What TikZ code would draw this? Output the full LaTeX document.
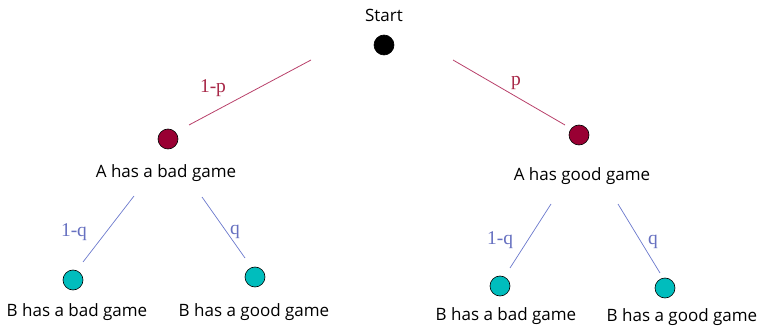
\documentclass[tikz,border=0pt]{standalone}
\usepackage{fontspec}
\setmainfont{Open Sans}
\newfontfamily\lblfont{Liberation Serif}
\definecolor{maroonA}{HTML}{990033}
\definecolor{redline}{HTML}{B8406A}
\definecolor{redlbl}{HTML}{A82848}
\definecolor{blueline}{HTML}{6A78CC}
\definecolor{bluelbl}{HTML}{6670C0}
\definecolor{tealB}{HTML}{00BDBD}
\begin{document}
\begin{tikzpicture}[x=1pt,y=-1pt,
  dot/.style={circle,draw=black,line width=0.6pt,minimum size=20pt,inner sep=0pt},
  txt/.style={font=\fontsize{17}{20}\selectfont,inner sep=0pt},
  plbl/.style={font=\lblfont\fontsize{19.5}{22}\selectfont,text=redlbl,inner sep=0pt},
  qlbl/.style={font=\lblfont\fontsize{19.5}{22}\selectfont,text=bluelbl,inner sep=0pt},
  rline/.style={draw=redline,line width=0.8pt},
  bline/.style={draw=blueline,line width=0.7pt}]
\useasboundingbox (0,0) rectangle (764,326);
% nodes
\node[txt] (starttxt) at (384,15) {Start};
\node[dot,fill=black] (start) at (384,45) {};
\node[dot,fill=maroonA] (al) at (168,139) {};
\node[dot,fill=maroonA] (ar) at (579,135) {};
\node[txt] (altxt) at (166,173) {A has a bad game};
\node[txt] (artxt) at (582,176) {A has good game};
\node[dot,fill=tealB] (bll) at (73,280) {};
\node[dot,fill=tealB] (blr) at (255,277) {};
\node[dot,fill=tealB] (brl) at (500,286) {};
\node[dot,fill=tealB] (brr) at (665,288) {};
\node[txt] (blltxt) at (77,312) {B has a bad game};
\node[txt] (blrtxt) at (254,312) {B has a good game};
\node[txt] (brltxt) at (506,316) {B has a bad game};
\node[txt] (brrtxt) at (682,317) {B has a good game};
% connector end points
\coordinate (s1) at (311,60);  \coordinate (e1) at (189,125);
\coordinate (s2) at (453,60);  \coordinate (e2) at (565,125);
\coordinate (s3) at (134,196); \coordinate (e3) at (83,262);
\coordinate (s4) at (202,197); \coordinate (e4) at (245,258);
\coordinate (s5) at (551,204); \coordinate (e5) at (510,268);
\coordinate (s6) at (618,204); \coordinate (e6) at (660,273);
\draw[rline] (s1) -- (e1);
\draw[rline] (s2) -- (e2);
\draw[bline] (s3) -- (e3);
\draw[bline] (s4) -- (e4);
\draw[bline] (s5) -- (e5);
\draw[bline] (s6) -- (e6);
% labels
\node[plbl] (lp1) at (213,88) {1-p};
\node[plbl] (lp2) at (516,83) {p};
\node[qlbl] (lq1) at (74,232) {1-q};
\node[qlbl] (lq2) at (235,232) {q};
\node[qlbl] (lq3) at (500,240) {1-q};
\node[qlbl] (lq4) at (653,242) {q};
\end{tikzpicture}
\end{document}
